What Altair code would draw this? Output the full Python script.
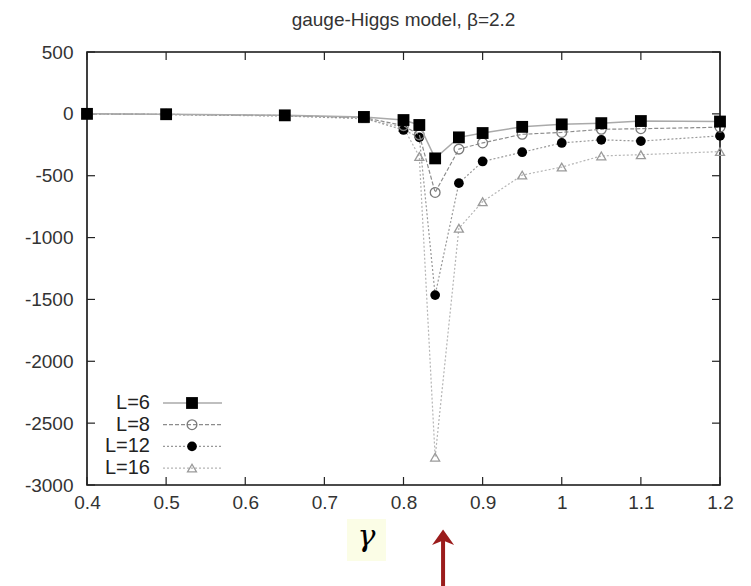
import altair as alt
import pandas as pd

# ---- data ----
gamma = [0.4, 0.5, 0.65, 0.75, 0.8, 0.82, 0.84, 0.87, 0.9, 0.95, 1.0, 1.05, 1.1, 1.2]
L6 = [0, -3, -12, -25, -50, -90, -360, -190, -155, -105, -85, -75, -58, -62]
L8 = [0, -4, -14, -30, -95, -170, -635, -285, -235, -165, -150, -125, -120, -108]
L12 = [0, -5, -16, -35, -130, -190, -1465, -560, -385, -310, -235, -210, -220, -178]
L16 = [0, -6, -18, -40, -110, -345, -2775, -925, -710, -495, -430, -340, -330, -305]
series_names = ["L=6", "L=8", "L=12", "L=16"]
x_ticks = [0.4, 0.5, 0.6, 0.7, 0.8, 0.9, 1.0, 1.1, 1.2]
y_ticks = [500, 0, -500, -1000, -1500, -2000, -2500, -3000]
title_text = "gauge-Higgs model, β=2.2"
arrow_gamma = [0.85]

W, H = 633, 433
FONT = "Liberation Sans"
MINUS_FIX = "replace(datum.label, '\u2212', '-')"

xscale = alt.Scale(domain=[0.4, 1.2], nice=False, zero=False)
yscale = alt.Scale(domain=[-3000, 500], nice=False, zero=False)
xaxis = alt.Axis(values=x_ticks, format="~g", title=None, ticks=False, domain=False, grid=False,
                 labelFlush=False, labelPadding=8, labelFontSize=19, labelFont=FONT,
                 labelColor="#333")
yaxis = alt.Axis(values=y_ticks, format="d", labelExpr=MINUS_FIX, title=None, ticks=False,
                 domain=False, grid=False, labelFlush=False, labelPadding=14, labelFontSize=19,
                 labelFont=FONT, labelColor="#333")

styles = {
    "L=6": dict(line=dict(color="#aaaaaa", strokeWidth=1.5),
                pt=dict(shape="square", filled=True, color="black", size=140)),
    "L=8": dict(line=dict(color="#8c8c8c", strokeWidth=1.2, strokeDash=[4, 2]),
                pt=dict(shape="circle", filled=False, color="#7a7a7a", size=95, strokeWidth=1.3)),
    "L=12": dict(line=dict(color="#999999", strokeWidth=1.2, strokeDash=[2, 2]),
                 pt=dict(shape="circle", filled=True, color="black", size=95)),
    "L=16": dict(line=dict(color="#b5b5b5", strokeWidth=1.2, strokeDash=[2, 2]),
                 pt=dict(shape="triangle-up", filled=False, color="#9a9a9a", size=80, strokeWidth=1.3)),
}
values = {"L=6": L6, "L=8": L8, "L=12": L12, "L=16": L16}

layers = []
one = pd.DataFrame({"a": [0]})

# inward ticks on all four sides
xt = pd.DataFrame({"t": x_ticks})
yt = pd.DataFrame({"t": y_ticks})
TL = 8
xenc_t = alt.X("t:Q", scale=xscale, axis=xaxis)
yenc_t = alt.Y("t:Q", scale=yscale, axis=yaxis)
layers.append(alt.Chart(xt).mark_rule(color="#222", strokeWidth=1.2).encode(
    x=xenc_t, y=alt.value(0), y2=alt.value(TL)))
layers.append(alt.Chart(xt).mark_rule(color="#222", strokeWidth=1.2).encode(
    x=xenc_t, y=alt.value(H - TL), y2=alt.value(H)))
layers.append(alt.Chart(yt).mark_rule(color="#222", strokeWidth=1.2).encode(
    y=yenc_t, x=alt.value(0), x2=alt.value(TL)))
layers.append(alt.Chart(yt).mark_rule(color="#222", strokeWidth=1.2).encode(
    y=yenc_t, x=alt.value(W - TL), x2=alt.value(W)))

# series, drawn L=16 first so L=6 ends on top
for name in reversed(series_names):
    df = pd.DataFrame({"g": gamma, "v": values[name]})
    enc = dict(x=alt.X("g:Q", scale=xscale, axis=xaxis), y=alt.Y("v:Q", scale=yscale, axis=yaxis))
    layers.append(alt.Chart(df).mark_line(**styles[name]["line"]).encode(**enc))
    layers.append(alt.Chart(df).mark_point(opacity=1, **styles[name]["pt"]).encode(**enc))

# manual gnuplot-style legend (label left of sample)
row0, dy = 351, 21.7
for i, name in enumerate(series_names):
    yy = row0 + i * dy
    layers.append(alt.Chart(one).mark_rule(**styles[name]["line"]).encode(
        x=alt.value(76), x2=alt.value(135), y=alt.value(yy)))
    layers.append(alt.Chart(one).mark_point(opacity=1, **styles[name]["pt"]).encode(
        x=alt.value(105), y=alt.value(yy)))
    layers.append(alt.Chart(one).mark_text(text=name, align="right", baseline="middle",
                                           font=FONT, fontSize=20, color="#222").encode(
        x=alt.value(63), y=alt.value(yy)))

# gamma axis label on a light yellow patch
layers.append(alt.Chart(one).mark_rect(color="#fbfde6").encode(
    x=alt.value(260), x2=alt.value(299), y=alt.value(467), y2=alt.value(509)))
layers.append(alt.Chart(one).mark_text(text="γ", align="center", baseline="alphabetic",
                                       font="DejaVu Serif", fontStyle="italic", fontSize=30,
                                       fontWeight="normal", color="black").encode(
    x=alt.value(279.5), y=alt.value(494)))

# red arrow pointing at the transition
arr = pd.DataFrame({"g": arrow_gamma})
layers.append(alt.Chart(arr).mark_rule(color="#9b1c1c", strokeWidth=4).encode(
    x=alt.X("g:Q", scale=xscale, axis=xaxis), y=alt.value(487), y2=alt.value(545)))
layers.append(alt.Chart(arr).mark_point(shape="M0,-0.95 L1,0.45 L0,0.05 L-1,0.45 Z", filled=True,
                                        color="#9b1c1c", opacity=1, size=484).encode(
    x=alt.X("g:Q", scale=xscale, axis=xaxis), y=alt.value(488)))

chart = alt.layer(*layers).properties(
    width=W, height=H,
    title=alt.TitleParams(title_text, fontSize=19, font=FONT, fontWeight="normal",
                          color="#333", anchor="middle", offset=13),
    autosize=alt.AutoSizeParams(type="none"),
    padding={"left": 79, "top": 44, "right": 20, "bottom": 110},
).configure_view(stroke="#111", strokeWidth=1.6, clip=False)

chart.save("out.html", embed_options={"renderer": "svg", "actions": False})
